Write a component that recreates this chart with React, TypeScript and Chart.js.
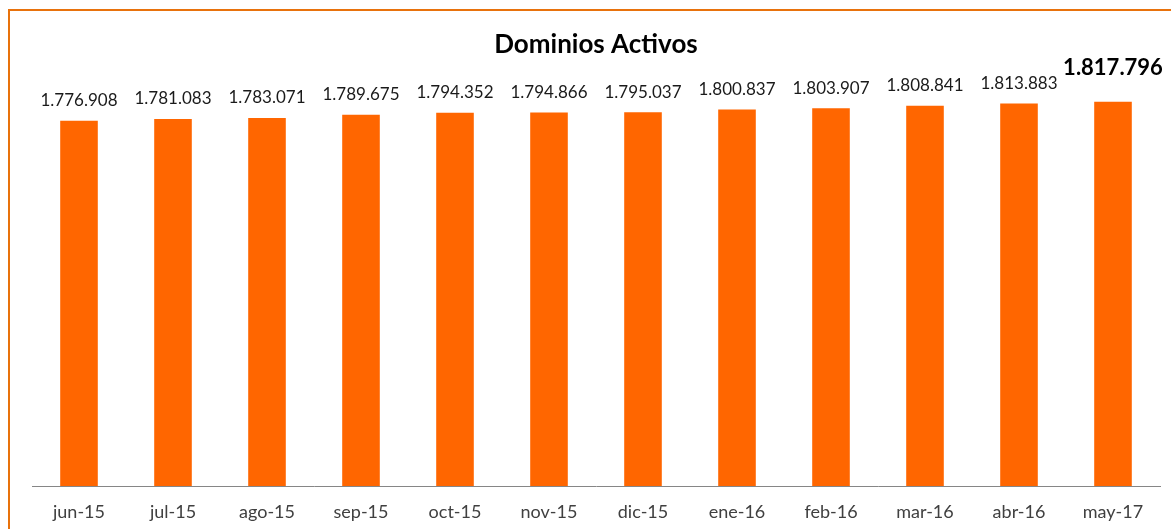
import React, { useEffect, useRef } from "react";
import { Chart, registerables } from "chart.js";

Chart.register(...registerables);

const categories = ["jun-15", "jul-15", "ago-15", "sep-15", "oct-15", "nov-15", "dic-15", "ene-16", "feb-16", "mar-16", "abr-16", "may-17"];
const values = [1776908, 1781083, 1783071, 1789675, 1794352, 1794866, 1795037, 1800837, 1803907, 1808841, 1813883, 1817796];
const titleText = "Dominios Activos";
const axisMin = 1000000;
const axisMax = 2000000;

const W = 1171;
const H = 560;

function fmt(v: number): string {
  return String(v).replace(/\B(?=(\d{3})+(?!\d))/g, ".");
}

const overlayPlugin = {
  id: "overlay",
  afterDatasetsDraw(chart: any) {
    const ctx = chart.ctx;
    const meta = chart.getDatasetMeta(0);
    ctx.save();
    ctx.textAlign = "center";
    ctx.textBaseline = "middle";
    meta.data.forEach((bar: any, i: number) => {
      const hi = i === values.length - 1;
      ctx.font = hi ? "bold 22px Lato" : "17px Lato";
      ctx.fillStyle = hi ? "#000000" : "#1a1a1a";
      ctx.fillText(fmt(values[i]), bar.x, bar.y - (hi ? 34 : 20));
    });
    const ca = chart.chartArea;
    ctx.font = "bold 26px Lato";
    ctx.fillStyle = "#000000";
    ctx.fillText(titleText, (ca.left + ca.right) / 2, 45);
    ctx.restore();
  },
};

export default function App() {
  const ref = useRef<HTMLCanvasElement | null>(null);
  useEffect(() => {
    document.documentElement.style.overflow = "hidden";
    document.body.style.overflow = "hidden";
    const chart = new Chart(ref.current!, {
      type: "bar",
      data: {
        labels: categories,
        datasets: [
          {
            data: values,
            backgroundColor: "#FF6600",
            borderWidth: 0,
            barPercentage: 0.8,
            categoryPercentage: 0.5,
          },
        ],
      },
      options: {
        animation: false,
        responsive: false,
        maintainAspectRatio: false,
        devicePixelRatio: 1,
        layout: { padding: { left: 32, right: 11, top: 16, bottom: 22.4 } },
        plugins: { legend: { display: false }, tooltip: { enabled: false }, title: { display: false } },
        scales: {
          x: {
            grid: { display: false, drawTicks: false },
            border: { display: true, color: "#868686", width: 1 },
            ticks: { color: "#404040", font: { family: "Lato", size: 18 }, padding: 15, maxRotation: 0, autoSkip: false },
          },
          y: { display: false, min: axisMin, max: axisMax },
        },
      },
      plugins: [overlayPlugin],
    });
    return () => chart.destroy();
  }, []);
  return (
    <div style={{ position: "fixed", left: 0, top: 0, width: W, height: 529, overflow: "hidden", background: "#ffffff" }}>
      <canvas ref={ref} width={W} height={H} style={{ position: "absolute", left: 0, top: 0, width: W, height: H }} />
      <div
        style={{
          position: "absolute",
          left: 8,
          top: 9,
          width: W + 20,
          height: H,
          borderTop: "2px solid #E8720C",
          borderLeft: "2px solid #E8720C",
          pointerEvents: "none",
        }}
      />
    </div>
  );
}
